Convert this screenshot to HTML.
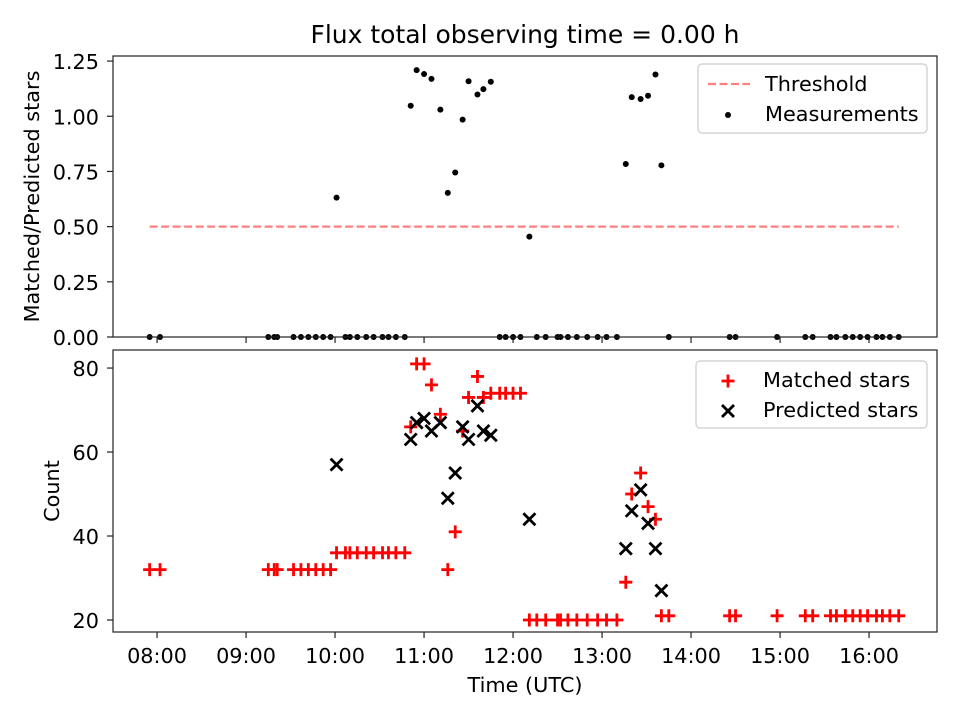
<!DOCTYPE html>
<html><head><meta charset="utf-8"><style>
body{margin:0;background:#fff}
svg text{font-family:"DejaVu Sans","Liberation Sans",sans-serif;fill:#000}
</style></head><body>
<svg id="chart" width="960" height="720" xmlns="http://www.w3.org/2000/svg">
<rect width="960" height="720" fill="#fff"/>
<text x="525" y="43" font-size="25" text-anchor="middle">Flux total observing time = 0.00 h</text>
<g id="topPanel"></g><g id="botPanel"></g>
</svg>
<script>
// minutes since 08:00 UTC
const times = [-5,2,75,79,81,92,97,102,107,112,117,121,127,130,135,141,146,152,156,161,167,171,175,180,185,191,196,201,206,210,216,220,225,231,235,240,245,251,256,262,270,272,277,283,290,297,303,310,316,320,326,331,336,340,345,386,390,418,437,442,454,458,464,469,474,479,485,489,494,500];
const matched = [32,32,32,32,32,32,32,32,32,32,32,36,36,36,36,36,36,36,36,36,36,66,81,81,76,69,32,41,65,73,78,73,74,74,74,74,74,20,20,20,20,20,20,20,20,20,20,20,29,50,55,47,44,21,21,21,21,21,21,21,21,21,21,21,21,21,21,21,21,21];
const predicted = [0,0,0,0,0,0,0,0,0,0,0,57,0,0,0,0,0,0,0,0,0,63,67,68,65,67,49,55,66,63,71,65,64,0,0,0,0,44,0,0,0,0,0,0,0,0,0,0,37,46,51,43,37,27,0,0,0,0,0,0,0,0,0,0,0,0,0,0,0,0];
const xTickLabels = ["08:00","09:00","10:00","11:00","12:00","13:00","14:00","15:00","16:00"];
const topTicks = [0,0.25,0.5,0.75,1.0,1.25];
const botTicks = [20,40,60,80];
const threshold = 0.5;

const NS="http://www.w3.org/2000/svg";
const FS=20.8;
const L=113,R=937;
const xMin=-29.7,xMax=525.8;
const X=m=>L+(m-xMin)/(xMax-xMin)*(R-L);
const TA={top:56,bot:337,min:0,max:1.273};
const BA={top:350,bot:632,min:17.14,max:84.3};
const Y=(a,v)=>a.bot-(v-a.min)/(a.max-a.min)*(a.bot-a.top);
function el(p,tag,at,txt){const e=document.createElementNS(NS,tag);for(const k in at)e.setAttribute(k,at[k]);if(txt!=null)e.textContent=txt;p.appendChild(e);return e;}
const gTop=document.getElementById('topPanel'),gBot=document.getElementById('botPanel');

function axes(g,a,ticks,fmt,name,showX){
  for(const t of ticks){const y=Y(a,t);
    const tk=el(g,'line',{x1:L-6,x2:L,y1:y,y2:y,stroke:'#222','stroke-width':1.2});
    
    
    const tx=el(g,'text',{x:L-14,y:y+8,'font-size':FS,'text-anchor':'end'},fmt(t));
    
    }
  xTickLabels.forEach((lb,i)=>{const x=X(i*60);
    const tk=el(g,'line',{x1:x,x2:x,y1:a.bot,y2:a.bot+6,stroke:'#222','stroke-width':1.2});
    
    
    if(showX){const tx=el(g,'text',{x:x,y:a.bot+31,'font-size':FS,'text-anchor':'middle'},lb);
      
      }});
}
function frame(g,a,name){const r=el(g,'rect',{x:L,y:a.top,width:R-L,height:a.bot-a.top,fill:'none',stroke:'#222','stroke-width':1.2});
  
  }

// TOP
axes(gTop,TA,topTicks,t=>t.toFixed(2),'top',false);
const th=el(gTop,'line',{x1:X(times[0]),x2:X(times[times.length-1]),y1:Y(TA,threshold),y2:Y(TA,threshold),stroke:'#ff8080','stroke-width':2.2,'stroke-dasharray':'8,3.5'});


times.forEach((m,i)=>{const r=predicted[i]>0?matched[i]/predicted[i]:0;
  const c=el(gTop,'circle',{cx:X(m),cy:Y(TA,r),r:3,fill:'#000'});
  
  });
frame(gTop,TA,'top');
const yl1=el(gTop,'text',{x:0,y:0,'font-size':FS,'text-anchor':'middle',transform:`translate(39,${(TA.top+TA.bot)/2}) rotate(-90)`},'Matched/Predicted stars');


const lg1=el(gTop,'g',{});


el(lg1,'rect',{x:698,y:64,width:229,height:69,rx:4,fill:'#fff','fill-opacity':0.8,stroke:'#ccc','stroke-width':1.2});
el(lg1,'line',{x1:708,x2:750,y1:84,y2:84,stroke:'#ff8080','stroke-width':2.2,'stroke-dasharray':'8,3.5'});
el(lg1,'text',{x:765,y:91,'font-size':FS},'Threshold');
el(lg1,'circle',{cx:728,cy:115,r:3,fill:'#000'});
el(lg1,'text',{x:765,y:121,'font-size':FS},'Measurements');

// BOTTOM
axes(gBot,BA,botTicks,t=>String(t),'bottom',true);
times.forEach((m,i)=>{const x=X(m),y=Y(BA,matched[i]);
  const p=el(gBot,'path',{d:`M${x-6.5} ${y}H${x+6.5}M${x} ${y-6.5}V${y+6.5}`,stroke:'#f00','stroke-width':2.8});
  
  });
times.forEach((m,i)=>{if(predicted[i]<=0)return;const x=X(m),y=Y(BA,predicted[i]);
  const p=el(gBot,'path',{d:`M${x-6} ${y-6}L${x+6} ${y+6}M${x-6} ${y+6}L${x+6} ${y-6}`,stroke:'#000','stroke-width':2.8});
  
  });
frame(gBot,BA,'bottom');
const yl2=el(gBot,'text',{x:0,y:0,'font-size':FS,'text-anchor':'middle',transform:`translate(59,${(BA.top+BA.bot)/2}) rotate(-90)`},'Count');


const xl=el(gBot,'text',{x:525,y:692,'font-size':FS,'text-anchor':'middle'},'Time (UTC)');


const lg2=el(gBot,'g',{});


el(lg2,'rect',{x:696,y:361,width:231,height:67,rx:4,fill:'#fff','fill-opacity':0.8,stroke:'#ccc','stroke-width':1.2});
el(lg2,'path',{d:'M721.5 381H734.5M728 374.5V387.5',stroke:'#f00','stroke-width':2.8});
el(lg2,'text',{x:763,y:387,'font-size':FS},'Matched stars');
el(lg2,'path',{d:'M722 405L734 417M722 417L734 405',stroke:'#000','stroke-width':2.8});
el(lg2,'text',{x:763,y:417,'font-size':FS},'Predicted stars');
</script>
</body></html>
